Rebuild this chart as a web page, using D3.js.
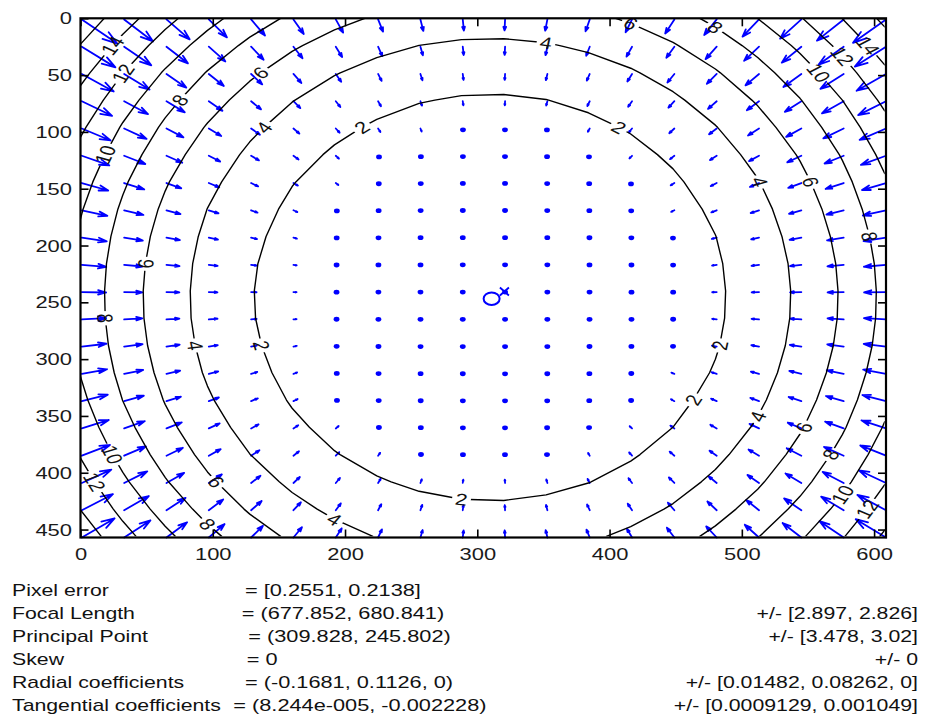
<!DOCTYPE html>
<html>
<head>
<meta charset="utf-8">
<script src="https://cdn.jsdelivr.net/npm/d3@7/dist/d3.min.js"></script>
<style>
html, body { margin: 0; padding: 0; background: #fff; }
text { font-family: "Liberation Sans", Arial, Helvetica, sans-serif; }
</style>
</head>
<body>
<svg id="chart" width="928" height="716"></svg>
<script>
// ---- calibration results ----
const imageSize = [640, 480];
const pixelError = [0.2551, 0.2138];
const focalLength = [677.852, 680.841];
const focalLengthErr = [2.897, 2.826];
const principalPoint = [309.828, 245.802];
const principalPointErr = [3.478, 3.02];
const skew = 0;
const skewErr = 0;
const radialCoeffs = [-0.1681, 0.1126, 0];
const radialCoeffsErr = [0.01482, 0.08262, 0];
const tangentialCoeffs = [8.244e-5, -0.002228];
const tangentialCoeffsErr = [0.0009129, 0.001049];

// ---- axes and sampling ----
const xTicks = [0, 100, 200, 300, 400, 500, 600];
const yTicks = [0, 50, 100, 150, 200, 250, 300, 350, 400, 450];
const contourLevels = [2, 4, 6, 8, 10, 12, 14, 16];
const samplesPerSide = 20;

// inline contour labels: [level, approx. image x, approx. image y]
const labelSpots = [
  [14, 26, 24], [12, 26, 59], [10, 18, 123], [8, 77, 68], [6, 141, 41], [4, 147, 87],
  [2, 202, 101], [4, 345, 21], [6, 410, 4], [8, 479, 6], [10, 558, 47], [12, 582, 39],
  [14, 594, 25], [2, 409, 99], [4, 513, 147], [6, 553, 153], [8, 590, 182],
  [2, 483, 284], [2, 468, 324], [4, 514, 346], [6, 549, 353], [8, 568, 378],
  [10, 575, 416], [12, 594, 431], [2, 285, 425], [4, 198, 446], [6, 105, 418],
  [8, 96, 449], [10, 28, 385], [12, 11, 408], [6, 47, 222], [8, 13, 262],
  [4, 83, 280], [2, 133, 288]
];

const svg = d3.select("#chart");
const frame = { left: 80.5, right: 886, top: 18.3, bottom: 537.5 };
const stretch = 1.33;      // glyphs are drawn wide
const fontSize = 16.5;
const blue = "#0000ff";

// ---- radial component of the distortion on the sampling grid (0-based pixels) ----
const stepX = imageSize[0] / samplesPerSide, stepY = imageSize[1] / samplesPerSide;
const gridX = d3.range(0, imageSize[0] - 1, stepX);
const gridY = d3.range(0, imageSize[1] - 1, stepY);
const [fcx, fcy] = focalLength, [ccx, ccy] = principalPoint;
const [k1, k2, k3] = radialCoeffs;

function radialDistort(u, v) {
  const yn = (v - ccy) / fcy;
  const xn = (u - ccx) / fcx - skew * yn;
  const r2 = xn * xn + yn * yn;
  const c = 1 + k1 * r2 + k2 * r2 * r2 + k3 * r2 * r2 * r2;
  const xd = xn * c, yd = yn * c;
  return [fcx * (xd + skew * yd) + ccx, fcy * yd + ccy];
}

const field = [];
gridY.forEach(v => gridX.forEach(u => {
  const [u2, v2] = radialDistort(u, v);
  field.push({ u, v, dx: u2 - u, dy: v2 - v, dr: Math.hypot(u2 - u, v2 - v) });
}));

// ---- scales ----
const x = d3.scaleLinear().domain([0, d3.max(gridX) + 1]).range([frame.left, frame.right]);
const y = d3.scaleLinear().domain([0, d3.max(gridY) + 1]).range([frame.top, frame.bottom]);

// ---- quiver ----
const n = Math.sqrt(field.length);
const delx = (d3.max(field, d => d.u) - d3.min(field, d => d.u)) / n;
const dely = (d3.max(field, d => d.v) - d3.min(field, d => d.v)) / n;
const maxLen = d3.max(field, d => Math.sqrt((d.dx * d.dx + d.dy * d.dy) / (delx * delx + dely * dely)));
const arrowScale = 0.9 / maxLen;
const headLen = 0.33, headWidth = 0.33, eps = 2.2e-16;

const quiver = svg.append("g")
  .attr("stroke", blue).attr("fill", "none")
  .attr("stroke-width", 1.8).attr("stroke-linecap", "round").attr("stroke-linejoin", "round");

field.forEach(d => {
  const x0 = d.u + 1, y0 = d.v + 1;
  const a = d.dx * arrowScale, b = d.dy * arrowScale;
  const x1 = x0 + a, y1 = y0 + b;
  const h1 = [x1 - headLen * (a + headWidth * (b + eps)), y1 - headLen * (b - headWidth * (a + eps))];
  const h2 = [x1 - headLen * (a - headWidth * (b + eps)), y1 - headLen * (b + headWidth * (a + eps))];
  const pxLen = Math.hypot(x(x1) - x(x0), y(y1) - y(y0));
  if (pxLen < 3) {
    quiver.append("ellipse")
      .attr("cx", (x(x0) + x(x1)) / 2).attr("cy", (y(y0) + y(y1)) / 2)
      .attr("rx", 2.9).attr("ry", 2.4).attr("fill", blue).attr("stroke", "none");
  } else {
    quiver.append("path").attr("d",
      `M${x(x0)},${y(y0)}L${x(x1)},${y(y1)}` +
      `M${x(h1[0])},${y(h1[1])}L${x(x1)},${y(y1)}L${x(h2[0])},${y(h2[1])}`);
  }
});

// principal point and image centre
svg.append("ellipse")
  .attr("cx", x(ccx + 1)).attr("cy", y(ccy + 1))
  .attr("rx", 8).attr("ry", 6.3)
  .attr("fill", "none").attr("stroke", blue).attr("stroke-width", 2);
const cX = x((imageSize[0] - 1) / 2 + 1), cY = y((imageSize[1] - 1) / 2 + 1);
svg.append("path")
  .attr("d", `M${cX - 4.5},${cY - 4}L${cX + 4.5},${cY + 4}M${cX - 4.5},${cY + 4}L${cX + 4.5},${cY - 4}`)
  .attr("stroke", blue).attr("stroke-width", 1.8);

// ---- contours of the displacement magnitude ----
const nx = gridX.length, ny = gridY.length;
const values = field.map(d => d.dr);
const contours = d3.contours().size([nx, ny]).thresholds(contourLevels)(values);
const toImgX = c => gridX[0] + (c - 0.5) * stepX;
const toImgY = c => gridY[0] + (c - 0.5) * stepY;
const projection = d3.geoTransform({
  point(cx, cy) { this.stream.point(x(toImgX(cx)), y(toImgY(cy))); }
});
const contourPath = d3.geoPath(projection);

const defs = svg.append("defs");
const clip = { x0: x(gridX[0]), x1: x(d3.max(gridX)), y0: y(gridY[0]), y1: y(d3.max(gridY)) };
defs.append("clipPath").attr("id", "gridClip").append("rect")
  .attr("x", clip.x0).attr("y", clip.y0)
  .attr("width", clip.x1 - clip.x0).attr("height", clip.y1 - clip.y0);
const mask = defs.append("mask").attr("id", "labelGaps").attr("maskUnits", "userSpaceOnUse");
mask.append("rect").attr("x", 0).attr("y", 0).attr("width", 928).attr("height", 716).attr("fill", "white");

// place labels on the nearest point of each level's line
const labels = [];
labelSpots.forEach(([level, ix, iy]) => {
  const geom = contours.find(c => c.value === level);
  if (!geom) return;
  const tx = x(ix), ty = y(iy);
  let best = null;
  geom.coordinates.forEach(poly => poly.forEach(ring => {
    const pts = ring.map(p => [x(toImgX(p[0])), y(toImgY(p[1]))]);
    pts.forEach((p, k) => {
      if (p[0] < clip.x0 + 0.5 || p[0] > clip.x1 - 0.5 || p[1] < clip.y0 + 0.5 || p[1] > clip.y1 - 0.5) return;
      const dd = (p[0] - tx) ** 2 + (p[1] - ty) ** 2;
      if (!best || dd < best.dd) {
        const a = pts[(k - 1 + pts.length) % pts.length], b = pts[(k + 1) % pts.length];
        best = { dd, p, dir: [b[0] - a[0], b[1] - a[1]] };
      }
    });
  }));
  if (!best) return;
  let ang = Math.atan2(best.dir[1], best.dir[0] / stretch) * 180 / Math.PI;
  if (ang > 90) ang -= 180;
  if (ang < -90) ang += 180;
  labels.push({ text: String(level), px: best.p[0], py: best.p[1], ang });
});

labels.forEach(l => {
  const w = l.text.length * 0.556 * fontSize + 5;
  mask.append("rect")
    .attr("transform", `translate(${l.px},${l.py}) scale(${stretch},1) rotate(${l.ang})`)
    .attr("x", -w / 2).attr("y", -7.5).attr("width", w).attr("height", 15)
    .attr("fill", "black");
});

svg.append("g").attr("clip-path", "url(#gridClip)")
  .append("g").attr("mask", "url(#labelGaps)")
  .selectAll("path").data(contours).join("path")
  .attr("d", contourPath)
  .attr("fill", "none").attr("stroke", "#000").attr("stroke-width", 1.4)
  .attr("stroke-linejoin", "round");

svg.append("g").selectAll("text").data(labels).join("text")
  .attr("transform", l => `translate(${l.px},${l.py}) scale(${stretch},1) rotate(${l.ang})`)
  .attr("text-anchor", "middle").attr("dy", "0.36em")
  .attr("font-size", fontSize).attr("fill", "#111")
  .text(l => l.text);

// ---- axes ----
function styleAxis(g) {
  g.select(".domain").remove();
  g.attr("font-size", 16.5).attr("font-family", null);
  g.selectAll(".tick line").attr("stroke", "#000").attr("stroke-width", 1.6);
  g.selectAll("text").attr("fill", "#1a1a1a");
}
svg.append("g").attr("transform", `translate(0,${frame.bottom})`)
  .call(d3.axisBottom(x).tickValues(xTicks).tickSizeInner(-8).tickSizeOuter(0).tickPadding(10.5))
  .call(styleAxis)
  .call(g => g.selectAll("text").attr("transform", `scale(${stretch},1)`));
svg.append("g").attr("transform", `translate(0,${frame.top})`)
  .call(d3.axisTop(x).tickValues(xTicks).tickSizeInner(-8).tickSizeOuter(0).tickFormat(""))
  .call(styleAxis);
svg.append("g").attr("transform", `translate(${frame.left},0)`)
  .call(d3.axisLeft(y).tickValues(yTicks).tickSizeInner(-8).tickSizeOuter(0))
  .call(styleAxis)
  .call(g => g.selectAll("text").attr("x", -8.5 / stretch).attr("dy", "0.34em")
    .attr("transform", `scale(${stretch},1)`));
svg.append("g").attr("transform", `translate(${frame.right},0)`)
  .call(d3.axisRight(y).tickValues(yTicks).tickSizeInner(-8).tickSizeOuter(0).tickFormat(""))
  .call(styleAxis);

svg.append("rect")
  .attr("x", frame.left).attr("y", frame.top)
  .attr("width", frame.right - frame.left).attr("height", frame.bottom - frame.top)
  .attr("fill", "none").attr("stroke", "#000").attr("stroke-width", 2.2);

// ---- parameter summary ----
function num(v) {
  if (v !== 0 && Math.abs(v) < 1e-4) {
    const [m, e] = v.toExponential(3).split("e");
    const ev = Math.abs(+e);
    return `${m}e${+e < 0 ? "-" : "+"}${String(ev).padStart(3, "0")}`;
  }
  return String(v);
}
const vec = (a, o, c) => o + a.map(num).join(", ") + c;
const summary = [
  ["Pixel error", "= " + vec(pixelError, "[", "]"), "", 245],
  ["Focal Length", "= " + vec(focalLength, "(", ")"), "+/- " + vec(focalLengthErr, "[", "]"), 241.7],
  ["Principal Point", "= " + vec(principalPoint, "(", ")"), "+/- " + vec(principalPointErr, "[", "]"), 248.3],
  ["Skew", "= " + num(skew), "+/- " + num(skewErr), 246.7],
  ["Radial coefficients", "= " + vec(radialCoeffs, "(", ")"), "+/- " + vec(radialCoeffsErr, "[", "]"), 245],
  ["Tangential coefficients", "= " + vec(tangentialCoeffs, "(", ")"), "+/- " + vec(tangentialCoeffsErr, "[", "]"), 233.3]
];
const info = svg.append("g").attr("font-size", 16).attr("fill", "#111");
summary.forEach(([name, val, err, vx], r) => {
  const base = 596 + r * 22.9;
  info.append("text").attr("transform", `translate(12,${base}) scale(${stretch},1)`).text(name);
  info.append("text").attr("transform", `translate(${vx},${base}) scale(${stretch + 0.03},1)`).text(val);
  if (err) info.append("text").attr("transform", `translate(918,${base}) scale(${stretch},1)`)
    .attr("text-anchor", "end").text(err);
});
</script>
</body>
</html>
